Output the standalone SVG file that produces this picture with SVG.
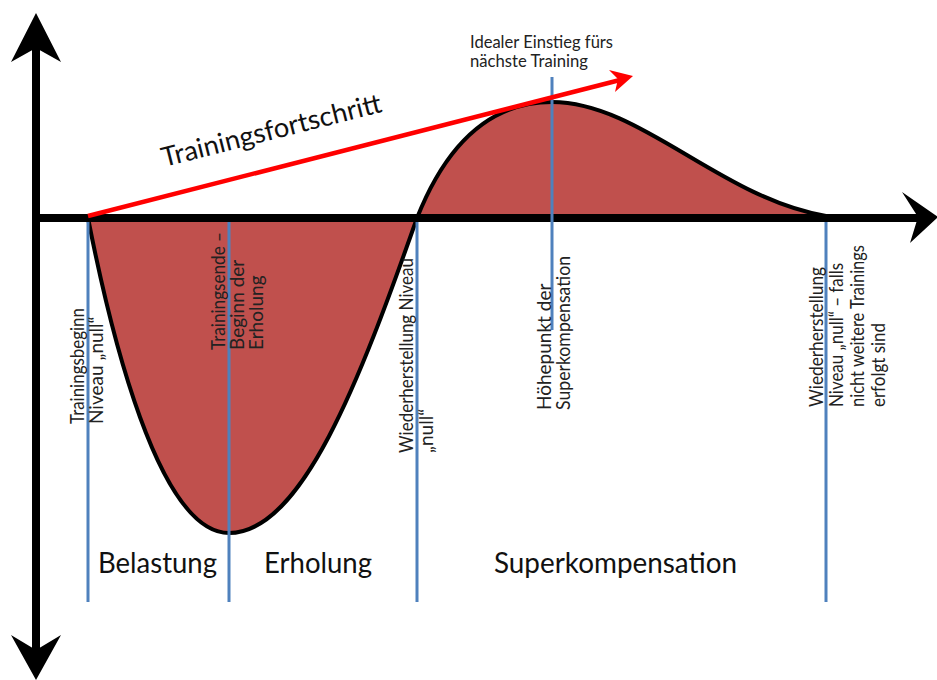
<svg xmlns="http://www.w3.org/2000/svg" width="937" height="680" viewBox="0 0 937 680">
<style>
.lbl{font-family:Lato,"Open Sans","Liberation Sans",sans-serif;font-size:19px;fill:#222}
.top{font-family:Lato,"Open Sans","Liberation Sans",sans-serif;font-size:17px;fill:#222}
.big{font-family:Lato,"Open Sans","Liberation Sans",sans-serif;font-size:28px;fill:#111}
.mark{stroke:#4f81bd;stroke-width:3;fill:none}
.lobe{fill:#c0504d;stroke:#000;stroke-width:4;stroke-linejoin:round}
</style>
<rect width="937" height="680" fill="#fff"/>
<g id="curve">
<path class="lobe" d="M88,218 C110,330 158,533 229,533 C302,533 360,380 417,218"/>
<path class="lobe" d="M417,218 C440,160 480,102 552,102 C640,102 720,198 826,216"/>
</g>
<g id="axes">
<line x1="36" y1="45" x2="36" y2="652" stroke="#000" stroke-width="8"/>
<polygon points="36,13 61,62 36,48 11,62" fill="#000"/>
<polygon points="36,680 61,635 36,650 11,635" fill="#000"/>
<line x1="36" y1="218" x2="920" y2="218" stroke="#000" stroke-width="8"/>
<polygon points="938,217 902,192 918,217 910,243" fill="#000"/>
</g>
<g id="connectors">
<line class="mark" x1="88" y1="222" x2="88" y2="602"/>
<line class="mark" x1="229" y1="222" x2="229" y2="602"/>
<line class="mark" x1="417" y1="222" x2="417" y2="602"/>
<line class="mark" x1="552" y1="77" x2="552" y2="330"/>
<line class="mark" x1="826" y1="222" x2="826" y2="602"/>
<line x1="88" y1="216" x2="620" y2="80" stroke="#ff0000" stroke-width="4.5"/>
<polygon points="633,76 615,92 618,79 609,70" fill="#ff0000"/>
</g>
<g id="progress">
<text class="big" transform="translate(164,167) rotate(-14.2)" textLength="226" lengthAdjust="spacingAndGlyphs" style="font-size:27px">Trainingsfortschritt</text>
</g>
<g id="ideal">
<text class="top" x="470" y="48" textLength="143" lengthAdjust="spacingAndGlyphs">Idealer Einstieg fürs</text>
<text class="top" x="470" y="67" textLength="118" lengthAdjust="spacingAndGlyphs">nächste Training</text>
</g>
<g id="label-start">
<text class="lbl" transform="translate(84,424) rotate(-90)" textLength="116" lengthAdjust="spacingAndGlyphs">Trainingsbeginn</text>
<text class="lbl" transform="translate(103,424) rotate(-90)">Niveau „null“</text>
</g>
<g id="label-end">
<text class="lbl" transform="translate(225,350) rotate(-90)" textLength="118" lengthAdjust="spacingAndGlyphs">Trainingsende –</text>
<text class="lbl" transform="translate(244,350) rotate(-90)">Beginn der</text>
<text class="lbl" transform="translate(263,350) rotate(-90)">Erholung</text>
</g>
<g id="label-restore">
<text class="lbl" transform="translate(413,453) rotate(-90)" textLength="195" lengthAdjust="spacingAndGlyphs">Wiederherstellung Niveau</text>
<text class="lbl" transform="translate(433,453) rotate(-90)">„null“</text>
</g>
<g id="label-peak">
<text class="lbl" transform="translate(551,410) rotate(-90)">Höhepunkt der</text>
<text class="lbl" transform="translate(570,410) rotate(-90)" textLength="154" lengthAdjust="spacingAndGlyphs">Superkompensation</text>
</g>
<g id="label-final">
<text class="lbl" transform="translate(823,407) rotate(-90)" textLength="140" lengthAdjust="spacingAndGlyphs">Wiederherstellung</text>
<text class="lbl" transform="translate(843,407) rotate(-90)" textLength="144" lengthAdjust="spacingAndGlyphs">Niveau „null“ – falls</text>
<text class="lbl" transform="translate(864,407) rotate(-90)" textLength="162" lengthAdjust="spacingAndGlyphs">nicht weitere Trainings</text>
<text class="lbl" transform="translate(885,407) rotate(-90)" textLength="84" lengthAdjust="spacingAndGlyphs">erfolgt sind</text>
</g>
<g id="phases">
<text class="big" x="98" y="573" textLength="119" lengthAdjust="spacingAndGlyphs">Belastung</text>
<text class="big" x="264" y="573" textLength="108" lengthAdjust="spacingAndGlyphs">Erholung</text>
<text class="big" x="494" y="573" textLength="243" lengthAdjust="spacingAndGlyphs">Superkompensation</text>
</g>
</svg>
